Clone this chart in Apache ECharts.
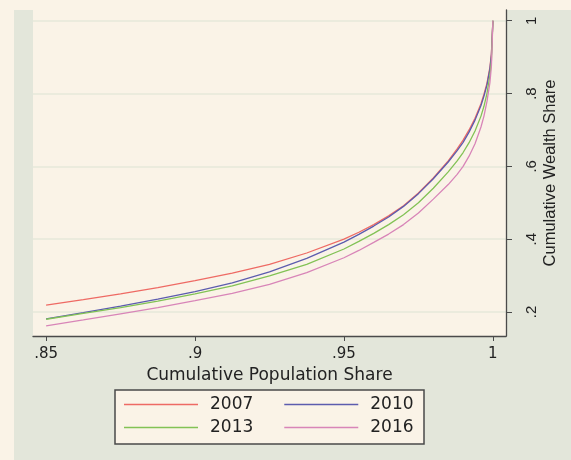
<!DOCTYPE html>
<html>
<head>
<meta charset="utf-8">
<script src="https://cdn.jsdelivr.net/npm/echarts@6/dist/echarts.min.js"></script>
<style>
  html, body { margin: 0; padding: 0; background: #faf3e7; }
  #chart { width: 571px; height: 460px; }
</style>
</head>
<body>
<div id="chart"></div>
<script>
// population share (x) and cumulative wealth share per year
const popShare = [0.85, 0.8625, 0.875, 0.8875, 0.9, 0.9125, 0.925, 0.9375, 0.95, 0.955, 0.96, 0.965, 0.97, 0.975,
    0.98, 0.985, 0.988, 0.99, 0.992, 0.994, 0.996, 0.997, 0.998, 0.999, 0.9995, 1.0]
const w2007 = [0.219, 0.234, 0.250, 0.267, 0.286, 0.307, 0.331, 0.362, 0.400, 0.419, 0.440, 0.464, 0.492, 0.527,
    0.568, 0.615, 0.648, 0.672, 0.700, 0.732, 0.772, 0.798, 0.828, 0.872, 0.910, 1.0]
const w2010 = [0.181, 0.198, 0.216, 0.235, 0.256, 0.280, 0.310, 0.347, 0.392, 0.413, 0.436, 0.461, 0.490, 0.525,
    0.566, 0.612, 0.643, 0.666, 0.694, 0.727, 0.767, 0.793, 0.823, 0.868, 0.905, 1.0]
const w2013 = [0.180, 0.196, 0.212, 0.230, 0.250, 0.272, 0.299, 0.331, 0.373, 0.394, 0.416, 0.440, 0.467, 0.500,
    0.540, 0.585, 0.615, 0.638, 0.665, 0.697, 0.738, 0.765, 0.800, 0.850, 0.890, 1.0]
const w2016 = [0.162, 0.178, 0.195, 0.212, 0.231, 0.251, 0.276, 0.308, 0.349, 0.369, 0.391, 0.414, 0.440, 0.472,
    0.510, 0.550, 0.578, 0.600, 0.628, 0.662, 0.708, 0.738, 0.778, 0.830, 0.875, 1.0]

const years = ['2007', '2010', '2013', '2016']
const colors = ['#ee6a64', '#5c5cae', '#82c255', '#d885b8']
const xTicks = [0.85, 0.9, 0.95, 1]
const yTicks = [0.2, 0.4, 0.6, 0.8, 1]

const stataLabel = v => (Math.abs(v - 1) < 1e-9 ? '1' : String(+v.toFixed(2)).replace(/^0/, ''))
const pairs = ys => popShare.map((x, i) => [x, ys[i]])

const myChart = echarts.init(document.getElementById('chart'))
const series = [w2007, w2010, w2013, w2016].map((ys, i) => ({
    name: years[i],
    type: 'line',
    data: pairs(ys),
    showSymbol: false,
    smooth: false,
    lineStyle: { width: 1.3, color: colors[i] },
    itemStyle: { color: colors[i] }
}))

const legendBase = {
    padding: 0,
    itemWidth: 74,
    itemHeight: 1.5,
    itemGap: 31,
    icon: 'rect',
    selectedMode: false,
    textStyle: { fontFamily: 'DejaVu Sans', fontSize: 17, color: '#222', padding: [0, 0, 0, 7] }
}

myChart.setOption({
    animation: false,
    backgroundColor: '#faf3e7',
    graphic: [
        { type: 'rect', z: -1, shape: { x: 14, y: 10, width: 557, height: 450 }, style: { fill: '#e3e6da' } },
        { type: 'rect', z: 3, shape: { x: 115, y: 390, width: 309, height: 54 }, style: { fill: '#faf3e7', stroke: '#4a4a4a', lineWidth: 1.5 } }
    ],
    grid: {
        left: 33, right: 65, top: 10, bottom: 124,
        show: true, backgroundColor: '#faf3e7', borderWidth: 0
    },
    legend: [
        Object.assign({ data: ['2007', '2010'], left: 124, top: 396 }, legendBase),
        Object.assign({ data: ['2013', '2016'], left: 124, top: 419 }, legendBase)
    ],
    xAxis: {
        type: 'value',
        min: 0.8456,
        max: 1.0044,
        name: 'Cumulative Population Share',
        nameLocation: 'middle',
        nameGap: 25,
        nameTextStyle: { fontFamily: 'DejaVu Sans', fontSize: 17, color: '#222' },
        axisLine: { lineStyle: { color: '#4a4a4a', width: 1.3 } },
        axisTick: { customValues: xTicks, length: 5, lineStyle: { color: '#4a4a4a' } },
        axisLabel: { customValues: xTicks, formatter: stataLabel, margin: 11, fontFamily: 'DejaVu Sans', fontSize: 15, color: '#222' },
        splitLine: { show: false }
    },
    yAxis: {
        type: 'value',
        position: 'right',
        min: 0.134,
        max: 1.0295,
        name: 'Cumulative Wealth Share',
        nameLocation: 'middle',
        nameRotate: 90,
        nameGap: 36,
        nameMoveOverlap: false,
        nameTextStyle: { fontFamily: 'Liberation Sans', fontSize: 16.5, color: '#222' },
        axisLine: { show: true, lineStyle: { color: '#4a4a4a', width: 1.3 } },
        axisTick: { show: true, customValues: yTicks, length: 6, lineStyle: { color: '#4a4a4a' } },
        axisLabel: { customValues: yTicks, formatter: stataLabel, rotate: 90, margin: 18, fontFamily: 'Liberation Sans', fontSize: 15, color: '#222' },
        splitLine: { show: true, lineStyle: { color: '#e6e9da', width: 1.5 } }
    },
    series: series
})
</script>
</body>
</html>
